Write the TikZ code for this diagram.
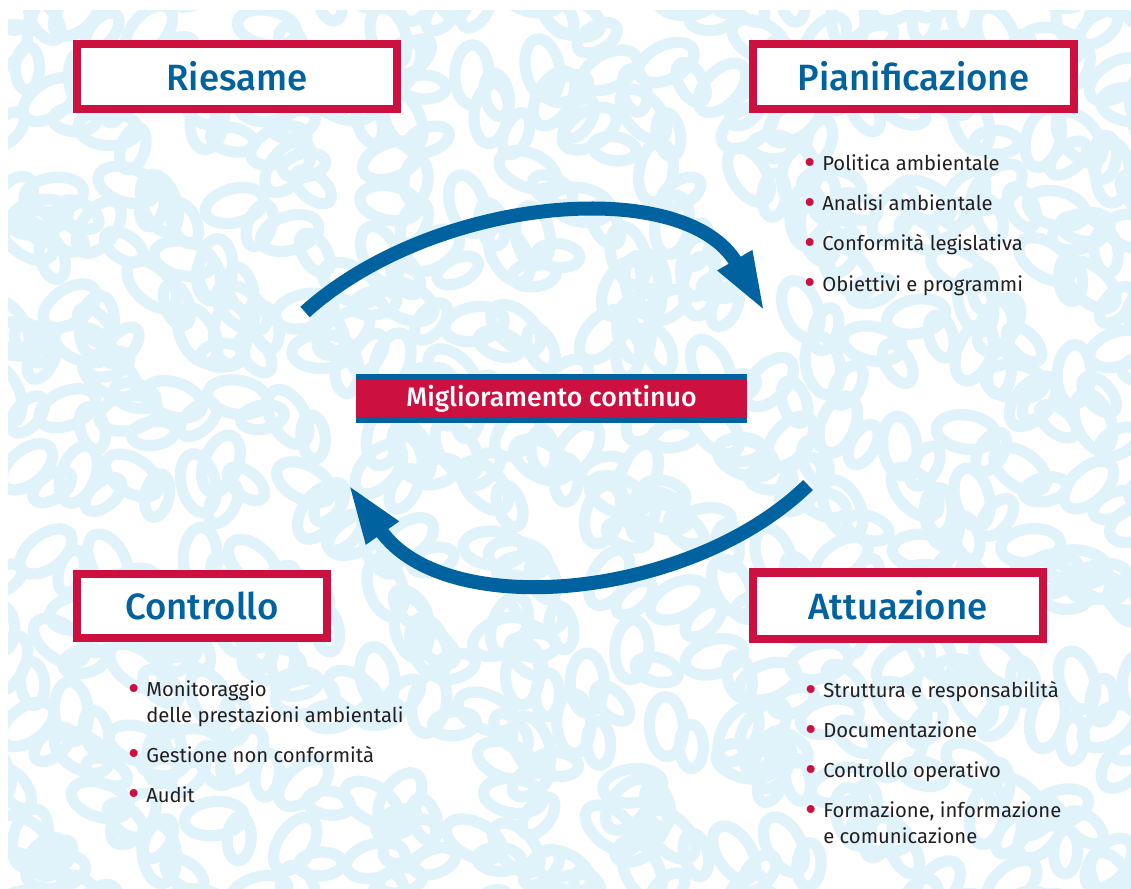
\documentclass[tikz,border=0pt]{standalone}
\usepackage{fontspec}
\IfFontExistsTF{Fira Sans Medium}
  {\setmainfont{Fira Sans}[BoldFont={Fira Sans Medium}]}
  {\setmainfont{Fira Sans}}
\usetikzlibrary{arrows.meta}

\definecolor{mred}{RGB}{204,16,64}
\definecolor{mblue}{RGB}{0,99,160}
\definecolor{swirlblue}{RGB}{224,242,250}
\definecolor{mtext}{RGB}{35,31,32}

\tikzset{
  titlebox/.style={draw=mred, line width=0.2cm, fill=white, inner sep=0pt,
    text=mblue, font=\fontsize{26}{30}\selectfont\bfseries},
  loopline/.style={draw=mblue, line width=0.35cm, -{Triangle[length=1.5cm, width=0.9cm]}},
  swirl/.style={draw=swirlblue, line width=0.28cm},
  itemlist/.style={anchor=base west, inner sep=0pt, align=left, text=mtext,
    font=\fontsize{14.4}{17.8}\selectfont}
}
\newcommand\bul{\makebox[12.8pt][l]{\raisebox{-2.6pt}{\textcolor{mred}{\fontsize{25}{10}\selectfont\textbullet}}}}
\newcommand\itemgap{\\[10.65pt]}

\begin{document}
\begin{tikzpicture}[x=0.025cm, y=-0.025cm]
  \useasboundingbox (0,0) rectangle (1131,888);

  % background with swirls
  \begin{scope}
    \clip (8,10) rectangle (1131,888);
    \fill[white] (8,10) rectangle (1131,888);
    \pgfmathsetseed{11}
    \foreach \gx in {0,...,19}{
      \foreach \gy in {0,...,15}{
        \pgfmathsetmacro\cx{\gx*60+30*rand}
        \pgfmathsetmacro\cy{\gy*60+30*rand}
        \pgfmathsetmacro\ang{180*rand}
        \pgfmathsetmacro\angb{180*rand}
        \draw[swirl, rotate around={\ang:(\cx,\cy)}] (\cx,\cy) ellipse [x radius=30, y radius=17];
        \draw[swirl, rotate around={\angb:(\cx+25,\cy+20)}] (\cx+25,\cy+20) ellipse [x radius=22, y radius=12];
      }
    }
  \end{scope}

  % the four phases
  \node[titlebox, minimum width=8cm, minimum height=1.625cm] (riesame) at (237,76.5) {Riesame};
  \node[titlebox, minimum width=8cm, minimum height=1.625cm] (pianif) at (913.5,76.5) {Pianificazione};
  \node[titlebox, minimum width=6.25cm, minimum height=1.6cm] (controllo) at (202,606) {Controllo};
  \node[titlebox, minimum width=7.25cm, minimum height=1.65cm] (attuaz) at (898,605.5) {Attuazione};

  % central band
  \node[fill=mred, minimum width=9.775cm, minimum height=0.925cm, inner sep=0pt, text=white,
    font=\fontsize{19}{20}\selectfont\bfseries] (band) at (551.5,398.5) {Miglioramento continuo};
  \fill[mblue] (band.north west) rectangle ([yshift=0.14cm]band.north east);
  \fill[mblue] (band.south west) rectangle ([yshift=-0.15cm]band.south east);

  % cycle arrows
  \coordinate (topstart) at (305,312);
  \coordinate (topend) at (765,312);
  \coordinate (botstart) at (808,485);
  \coordinate (botend) at (348,484);
  \draw[loopline] (topstart) .. controls (435,195) and (685,175) .. (topend);
  \draw[loopline] (botstart) .. controls (690,600) and (445,622) .. (botend);

  % item lists (anchored at the baseline of their last line)
  \node[itemlist] (pianlist) at (804,291) {\bul Politica ambientale\itemgap
    \bul Analisi ambientale\itemgap
    \bul Conformità legislativa\itemgap
    \bul Obiettivi e programmi};
  \node[itemlist] (contlist) at (128,802) {\bul Monitoraggio\\
    \hspace*{12.8pt}delle prestazioni ambientali\itemgap
    \bul Gestione non conformità\itemgap
    \bul Audit};
  \node[itemlist] (attlist) at (805,843) {\bul Struttura e responsabilità\itemgap
    \bul Documentazione\itemgap
    \bul Controllo operativo\itemgap
    \bul Formazione, informazione\\
    \hspace*{12.8pt}e comunicazione};
\end{tikzpicture}
\end{document}
